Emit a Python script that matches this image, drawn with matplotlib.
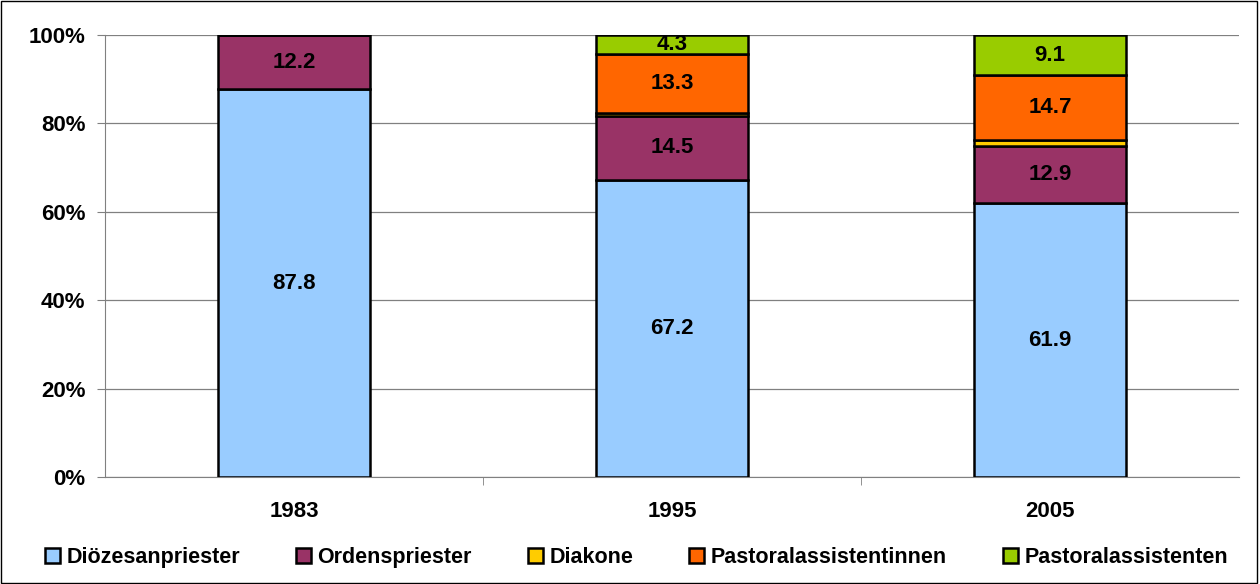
import numpy as np
import matplotlib.pyplot as plt
from matplotlib.patches import Rectangle

plt.rcParams['font.family'] = ['Liberation Sans', 'DejaVu Sans']
plt.rcParams['font.weight'] = 'bold'

years = ['1983', '1995', '2005']
series = ['Diözesanpriester', 'Ordenspriester', 'Diakone',
          'Pastoralassistentinnen', 'Pastoralassistenten']
dioezesan = [87.8, 67.2, 61.9]
orden = [12.2, 14.5, 12.9]
diakone = [0.0, 0.7, 1.4]
assistentinnen = [0.0, 13.3, 14.7]
assistenten = [0.0, 4.3, 9.1]
colors = ['#99CCFF', '#993366', '#FFCC00', '#FF6600', '#99CC00']

values = [dioezesan, orden, diakone, assistentinnen, assistenten]
fs = 16

fig = plt.figure(figsize=(12.6, 5.84), dpi=100)
ax = fig.add_axes([0.0833, 0.183, 0.9, 0.757])

x = np.arange(len(years))
bottom = np.zeros(len(years))
for name, vals, col in zip(series, values, colors):
    vals = np.array(vals)
    ax.bar(x, vals, 0.4, bottom=bottom, color=col, edgecolor='black',
           linewidth=1.8, label=name, zorder=3)
    for xi, b, v in zip(x, bottom, vals):
        if v >= 3:
            ax.text(xi, b + v / 2, f'{v:.1f}', ha='center', va='center',
                    fontsize=fs, fontweight='bold', zorder=4)
    bottom += vals

ax.set_xlim(-0.5, 2.5)
ax.set_ylim(0, 100)
ax.set_yticks(np.arange(0, 101, 20))
ax.set_yticklabels([f'{v}%' for v in range(0, 101, 20)], fontsize=fs)
ax.yaxis.grid(True, color='#808080', linewidth=0.9, zorder=0)
ax.tick_params(axis='y', direction='out', length=6, color='#808080', pad=8)

ax.set_xticks(x)
ax.set_xticklabels(years, fontsize=fs)
ax.tick_params(axis='x', length=0, pad=17)
ax.set_xticks([0.5, 1.5], minor=True)
ax.tick_params(axis='x', which='minor', direction='out', length=6,
               color='#808080')

for s in ['top', 'right']:
    ax.spines[s].set_visible(False)
ax.spines['left'].set_color('#808080')
ax.spines['bottom'].set_color('#808080')

leg = fig.legend(loc='center', bbox_to_anchor=(0.505, 0.046), ncol=5,
                 frameon=False, fontsize=15.5, handlelength=0.7,
                 handleheight=0.7, handletextpad=0.3, columnspacing=2.6)

fig.patches.append(Rectangle((0.001, 0.002), 0.997, 0.996,
                             transform=fig.transFigure, fill=False,
                             edgecolor='black', linewidth=1))

fig.savefig('out.png', dpi=100)
